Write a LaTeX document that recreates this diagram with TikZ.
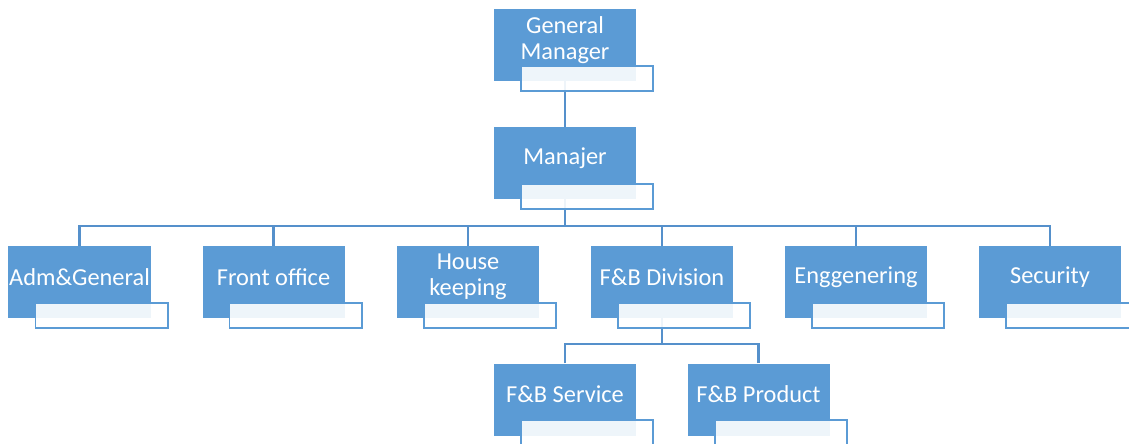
\documentclass[tikz,border=0pt]{standalone}
\usepackage{fontspec}
\setmainfont{Carlito}
\definecolor{boxblue}{HTML}{5B9BD5}
\definecolor{lineblue}{HTML}{5590CB}
\tikzset{
  unit/.style={fill=boxblue, minimum width=4.26cm, minimum height=2.16cm, inner sep=0pt},
  tag/.style={draw=boxblue, line width=1.7pt, fill=white, fill opacity=0.9, minimum width=3.96cm, minimum height=0.75cm, inner sep=0pt},
  unittext/.style={text=white, align=center, inner sep=0pt, font=\fontsize{20.8}{22.5}\selectfont},
  link/.style={draw=lineblue, line width=2pt}
}

\begin{document}
\begin{tikzpicture}[x=0.03cm, y=-0.03cm]
    \useasboundingbox (0,0) rectangle (1129,443);

    % 连接点
    \coordinate (bus) at (565,226);
    \coordinate (fbbus) at (662,344);

    % 方框
    \node[unit] (gm) at (565,45) {};
    \node[unit] (mgr) at (565,163) {};

    \node[unit] (adm) at (79.5,282) {};
    \node[unit] (front) at (273.5,282) {};
    \node[unit] (house) at (468,282) {};
    \node[unit] (fb) at (662,282) {};
    \node[unit] (eng) at (856,282) {};
    \node[unit] (sec) at (1050,282) {};

    \node[unit] (fbs) at (565,399.5) {};
    \node[unit] (fbp) at (758.5,399.5) {};

    % 连线
    \draw[link] (gm.south) -- (mgr.north);
    \draw[link] (mgr.south) -- (bus);
    \draw[link] (adm.north) |- (bus);
    \draw[link] (front.north) |- (bus);
    \draw[link] (house.north) |- (bus);
    \draw[link] (fb.north) |- (bus);
    \draw[link] (eng.north) |- (bus);
    \draw[link] (sec.north) |- (bus);
    \draw[link] (fb.south) -- (fbbus);
    \draw[link] (fbs.north) |- (fbbus);
    \draw[link] (fbp.north) |- (fbbus);

    % 标签框
    \node[tag] (gmtag) at (gm.center) [xshift=0.66cm, yshift=-1cm] {};
    \node[tag] (mgrtag) at (mgr.center) [xshift=0.66cm, yshift=-1cm] {};
    \node[tag] (admtag) at (adm.center) [xshift=0.66cm, yshift=-1cm] {};
    \node[tag] (fronttag) at (front.center) [xshift=0.66cm, yshift=-1cm] {};
    \node[tag] (housetag) at (house.center) [xshift=0.66cm, yshift=-1cm] {};
    \node[tag] (fbtag) at (fb.center) [xshift=0.66cm, yshift=-1cm] {};
    \node[tag] (engtag) at (eng.center) [xshift=0.66cm, yshift=-1cm] {};
    \node[tag] (sectag) at (sec.center) [xshift=0.66cm, yshift=-1cm] {};
    \node[tag] (fbstag) at (fbs.center) [xshift=0.66cm, yshift=-1cm] {};
    \node[tag] (fbptag) at (fbp.center) [xshift=0.66cm, yshift=-1cm] {};

    % 文字
    \node[unittext] (gmtext) at (gm.center) [yshift=0.15cm] {General\\Manager};
    \node[unittext] (mgrtext) at (mgr.center) [yshift=0.15cm] {Manajer};
    \node[unittext] (admtext) at (adm.center) [yshift=0.15cm] {Adm\&General};
    \node[unittext] (fronttext) at (front.center) [yshift=0.15cm] {Front office};
    \node[unittext] (housetext) at (house.center) [yshift=0.15cm] {House\\keeping};
    \node[unittext] (fbtext) at (fb.center) [yshift=0.15cm] {F\&B Division};
    \node[unittext] (engtext) at (eng.center) [yshift=0.15cm] {Enggenering};
    \node[unittext] (sectext) at (sec.center) [yshift=0.15cm] {Security};
    \node[unittext] (fbstext) at (fbs.center) [yshift=0.15cm] {F\&B Service};
    \node[unittext] (fbptext) at (fbp.center) [yshift=0.15cm] {F\&B Product};
  \end{tikzpicture}
\end{document}
